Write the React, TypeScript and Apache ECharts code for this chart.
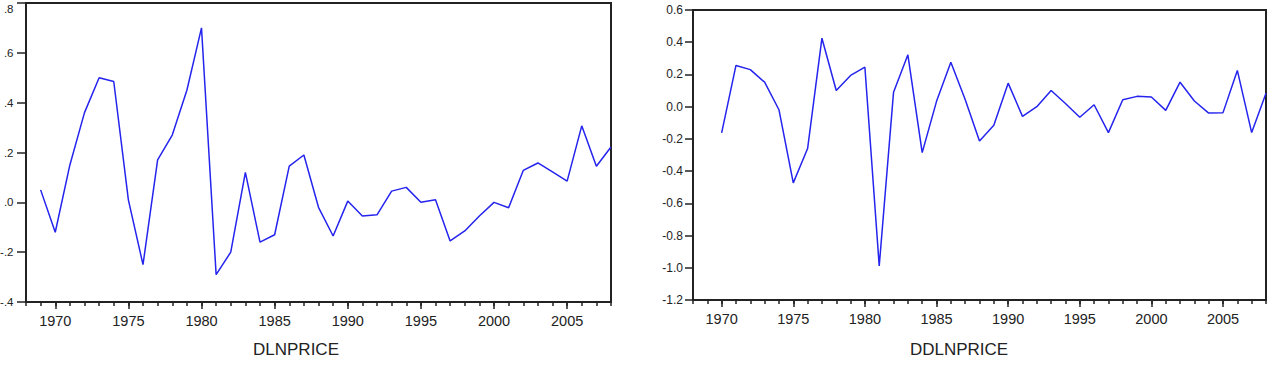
import React, { useEffect, useRef } from "react";
import * as echarts from "echarts";

const years = [
  "1968", "1969", "1970", "1971", "1972", "1973", "1974", "1975", "1976", "1977",
  "1978", "1979", "1980", "1981", "1982", "1983", "1984", "1985", "1986", "1987",
  "1988", "1989", "1990", "1991", "1992", "1993", "1994", "1995", "1996", "1997",
  "1998", "1999", "2000", "2001", "2002", "2003", "2004", "2005", "2006", "2007",
  "2008",
];

// DLNPRICE, 1969-2008
const dlnprice = [
  0.05, -0.12, 0.15, 0.36, 0.5, 0.485, 0.01, -0.25, 0.17, 0.27,
  0.45, 0.7, -0.29, -0.2, 0.12, -0.16, -0.13, 0.145, 0.19, -0.02,
  -0.135, 0.005, -0.055, -0.05, 0.045, 0.06, 0.0, 0.01, -0.155, -0.115,
  -0.055, 0.0, -0.022, 0.128, 0.158, 0.122, 0.085, 0.307, 0.145, 0.222,
];

// DDLNPRICE, 1970-2008
const ddlnprice = [
  -0.163, 0.256, 0.23, 0.152, -0.019, -0.473, -0.26, 0.425, 0.1, 0.194,
  0.245, -0.989, 0.09, 0.322, -0.285, 0.033, 0.276, 0.045, -0.213, -0.116,
  0.146, -0.06, 0.0, 0.1, 0.02, -0.066, 0.012, -0.161, 0.043, 0.064,
  0.06, -0.023, 0.152, 0.035, -0.04, -0.037, 0.225, -0.161, 0.084,
];

const dlnStart = "1969";
const ddlnStart = "1970";

const leftY = { min: -0.4, max: 0.8, interval: 0.2 };
const rightY = { min: -1.2, max: 0.6, interval: 0.2 };

const titles = ["DLNPRICE", "DDLNPRICE"];

const FONT = "Arial, 'Liberation Sans', Helvetica, sans-serif";
const DARK = "#222";
const LINE = "#2424ee";

function pad(values: number[], start: string) {
  const offset = years.indexOf(start);
  return years.map((_, i) => (i >= offset && i - offset < values.length ? values[i - offset] : null));
}

// EViews style ".8", "-.2" for the left panel; "0.6", "-0.2" for the right one
const shortFmt = (v: number) => v.toFixed(1).replace(/^(-?)0\./, "$1.");
const longFmt = (v: number) => v.toFixed(1);

export default function App() {
  const ref = useRef<HTMLDivElement>(null);
  useEffect(() => {
    if (!ref.current) return;
    const chart = echarts.init(ref.current, undefined, { renderer: "svg" });

    const minorX = (gridIndex: number) => ({
      type: "category",
      gridIndex,
      data: years,
      boundaryGap: false,
      position: "bottom",
      axisLine: { show: true, onZero: false, lineStyle: { color: DARK, width: 2 } },
      axisTick: { show: true, interval: 0, length: 4, lineStyle: { color: DARK, width: 1.5 } },
      axisLabel: { show: false },
      splitLine: { show: false },
    });
    const majorX = (gridIndex: number) => ({
      type: "category",
      gridIndex,
      data: years,
      boundaryGap: false,
      position: "bottom",
      axisLine: { show: false, onZero: false },
      axisTick: {
        show: true,
        interval: (_i: number, v: string) => Number(v) % 5 === 0,
        length: 7,
        lineStyle: { color: DARK, width: 1.5 },
      },
      axisLabel: {
        show: true,
        interval: (_i: number, v: string) => Number(v) % 5 === 0,
        margin: 11,
        fontSize: 14.5,
        fontFamily: FONT,
        color: DARK,
      },
      splitLine: { show: false },
    });
    const yAxis = (
      gridIndex: number,
      cfg: any,
      margin: number,
      tick: number,
      fontSize: number,
      fmt: (v: number) => string,
      topAlign: boolean
    ) => ({
      type: "value",
      gridIndex,
      min: cfg.min,
      max: cfg.max,
      interval: cfg.interval,
      axisLine: { show: true, onZero: false, lineStyle: { color: DARK, width: 2 } },
      axisTick: { show: true, length: tick, lineStyle: { color: DARK, width: 1.5 } },
      axisLabel: {
        margin,
        fontSize,
        fontFamily: FONT,
        color: DARK,
        formatter: fmt,
        ...(topAlign ? { verticalAlignMaxLabel: "top" } : {}),
      },
      splitLine: { show: false },
    });

    chart.setOption({
      animation: false,
      backgroundColor: "#fff",
      grid: [
        { left: 26, top: 3, width: 585, height: 299, show: true, borderColor: DARK, borderWidth: 2, containLabel: false, outerBoundsMode: "none" },
        { left: 693, top: 10, width: 573, height: 290, show: true, borderColor: DARK, borderWidth: 2, containLabel: false, outerBoundsMode: "none" },
      ],
      xAxis: [minorX(0), majorX(0), minorX(1), majorX(1)],
      yAxis: [
        yAxis(0, leftY, 12.5, 9, 11.5, shortFmt, true),
        yAxis(1, rightY, 10, 8, 12, longFmt, false),
      ],
      series: [
        {
          type: "line",
          xAxisIndex: 0,
          yAxisIndex: 0,
          data: pad(dlnprice, dlnStart),
          showSymbol: false,
          symbol: "none",
          lineStyle: { color: LINE, width: 1.5 },
        },
        {
          type: "line",
          xAxisIndex: 2,
          yAxisIndex: 1,
          data: pad(ddlnprice, ddlnStart),
          showSymbol: false,
          symbol: "none",
          lineStyle: { color: LINE, width: 1.5 },
        },
      ],
      graphic: [
        {
          type: "text",
          x: 296,
          y: 349,
          style: { text: titles[0], fontSize: 17, fontFamily: FONT, fill: DARK, textAlign: "center", textVerticalAlign: "middle" },
        },
        {
          type: "text",
          x: 959,
          y: 349,
          style: { text: titles[1], fontSize: 17, fontFamily: FONT, fill: DARK, textAlign: "center", textVerticalAlign: "middle" },
        },
      ],
    });
    return () => chart.dispose();
  }, []);
  return (
    <div
      ref={ref}
      style={{ position: "absolute", left: 0, top: 0, width: 1272, height: 371, background: "#fff" }}
    />
  );
}
